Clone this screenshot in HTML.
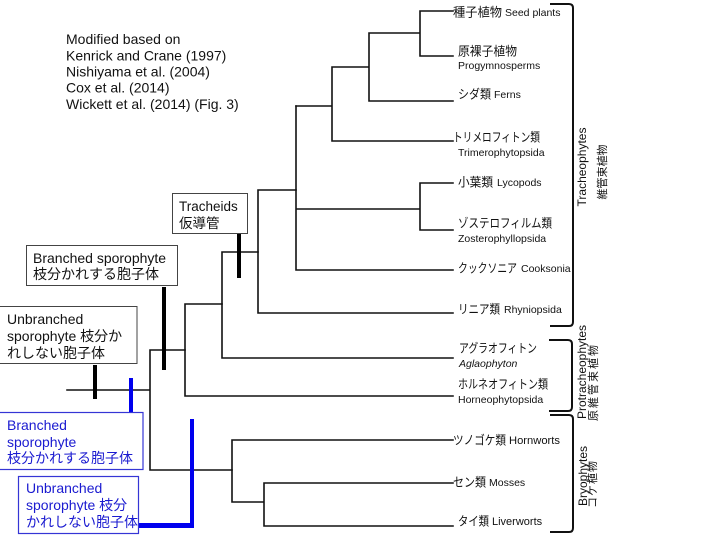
<!DOCTYPE html>
<html><head><meta charset="utf-8"><style>
html,body{margin:0;padding:0;background:#fff;}
svg{display:block;}
text{font-family:"Liberation Sans","Noto Sans CJK JP",sans-serif;}
</style></head><body>
<svg width="720" height="540" viewBox="0 0 720 540" xmlns="http://www.w3.org/2000/svg">
<g fill="none" stroke="#111" stroke-width="1.6" stroke-linecap="square">
<path d="M67 390H150M150 350V470M150 350H185M150 470H232"/>
<path d="M185 304V396M185 304H222M185 396H453"/>
<path d="M222 252V358M222 358H453M222 252H258"/>
<path d="M258 190V313M258 313H453M258 190H296"/>
<path d="M296 106V270M296 270H453M296 209H420M420 183V230M420 183H453M420 230H453"/>
<path d="M296 106H332M332 67V141M332 141H453M332 67H369M369 33V101M369 101H453M369 33H420M420 11V56M420 11H453M420 56H453"/>
<path d="M232 440V502M232 440H453M232 502H264M264 483V526M264 483H453M264 526H453"/>
</g>
<g fill="none" stroke="#111" stroke-width="2">
<path d="M550 4H569Q573 4 573 8V322Q573 326 569 326H550"/>
<path d="M549 340H568Q572 340 572 344V407Q572 411 568 411H549"/>
<path d="M550 415H569Q573 415 573 419V528Q573 532 569 532H550"/>
</g>
<g fill="#000">
<rect x="93" y="365" width="4" height="34"/>
<rect x="162" y="287" width="4" height="83"/>
<rect x="237" y="234" width="4" height="44"/>
</g>
<g fill="#0000ee">
<rect x="129" y="378" width="4" height="35"/>
<rect x="190" y="419" width="4" height="109"/>
<rect x="139" y="523" width="55" height="5"/>
</g>
<g fill="#fff" stroke="#444" stroke-width="1">
<rect x="172.5" y="193.5" width="75" height="40"/>
<rect x="26.5" y="245.5" width="151" height="40"/>
<rect x="-1" y="306.5" width="138" height="57"/>
</g>
<g fill="#fff" stroke="#3535d5" stroke-width="1.2">
<rect x="-1" y="412.5" width="144" height="57"/>
<rect x="18.5" y="476.5" width="120" height="57"/>
</g>
<g font-size="14" fill="#111">
<text x="66" y="44">Modified based on</text>
<text x="66" y="60.5">Kenrick and Crane (1997)</text>
<text x="66" y="76.5">Nishiyama et al. (2004)</text>
<text x="66" y="92.5">Cox et al. (2014)</text>
<text x="66" y="109">Wickett et al. (2014) (Fig. 3)</text>
<text x="179" y="211" font-size="13.5">Tracheids</text>
<text x="179" y="228" font-size="13.5">仮導管</text>
<text x="33" y="263">Branched sporophyte</text>
<text x="33" y="279">枝分かれする胞子体</text>
<text x="7" y="324">Unbranched</text>
<text x="7" y="341">sporophyte 枝分か</text>
<text x="7" y="358">れしない胞子体</text>
</g>
<g font-size="14" fill="#1a1ad0">
<text x="7" y="430">Branched</text>
<text x="7" y="447">sporophyte</text>
<text x="7" y="463">枝分かれする胞子体</text>
<text x="26" y="493">Unbranched</text>
<text x="26" y="510">sporophyte 枝分</text>
<text x="26" y="527">かれしない胞子体</text>
</g>
<g font-size="12.5" fill="#111" lengthAdjust="spacingAndGlyphs">
<text x="453" y="16.5" textLength="49" lengthAdjust="spacingAndGlyphs">種子植物</text>
<text x="458" y="55.5" textLength="59" lengthAdjust="spacingAndGlyphs">原裸子植物</text>
<text x="458" y="98.5" textLength="33" lengthAdjust="spacingAndGlyphs">シダ類</text>
<text x="453" y="141.5" textLength="87" lengthAdjust="spacingAndGlyphs">トリメロフィトン類</text>
<text x="458" y="186.5" textLength="35" lengthAdjust="spacingAndGlyphs">小葉類</text>
<text x="458" y="227.5" textLength="94" lengthAdjust="spacingAndGlyphs">ゾステロフィルム類</text>
<text x="458" y="272.5" textLength="59" lengthAdjust="spacingAndGlyphs">クックソニア</text>
<text x="458" y="313.5" textLength="42" lengthAdjust="spacingAndGlyphs">リニア類</text>
<text x="459" y="352.5" textLength="78" lengthAdjust="spacingAndGlyphs">アグラオフィトン</text>
<text x="458" y="388.5" textLength="90" lengthAdjust="spacingAndGlyphs">ホルネオフィトン類</text>
<text x="453" y="444.5" textLength="53" lengthAdjust="spacingAndGlyphs">ツノゴケ類</text>
<text x="453" y="486.5" textLength="33" lengthAdjust="spacingAndGlyphs">セン類</text>
<text x="458" y="525.5" textLength="31" lengthAdjust="spacingAndGlyphs">タイ類</text>
</g>
<g font-size="10.5" fill="#111">
<text x="505" y="16">Seed plants</text>
<text x="458" y="69">Progymnosperms</text>
<text x="494" y="98">Ferns</text>
<text x="458" y="156">Trimerophytopsida</text>
<text x="497" y="186">Lycopods</text>
<text x="458" y="242">Zosterophyllopsida</text>
<text x="521" y="272">Cooksonia</text>
<text x="504" y="313">Rhyniopsida</text>
<text x="459" y="367" font-style="italic">Aglaophyton</text>
<text x="458" y="403">Horneophytopsida</text>
<text x="509" y="444" font-size="11.2">Hornworts</text>
<text x="489" y="486">Mosses</text>
<text x="492" y="525" font-size="11">Liverworts</text>
</g>
<g font-size="12" fill="#111" text-anchor="middle">
<text transform="translate(586,167) rotate(-90)">Tracheophytes</text>
<text transform="translate(606,172) rotate(-90)" font-size="11">維管束植物</text>
<text transform="translate(586,372) rotate(-90)">Protracheophytes</text>
<text transform="translate(597,382) rotate(-90)" font-size="11" letter-spacing="2">原維管束植物</text>
<text transform="translate(587,476) rotate(-90)">Bryophytes</text>
<text transform="translate(596,484) rotate(-90)" font-size="11" letter-spacing="1">コケ植物</text>
</g>
</svg>
</body></html>
